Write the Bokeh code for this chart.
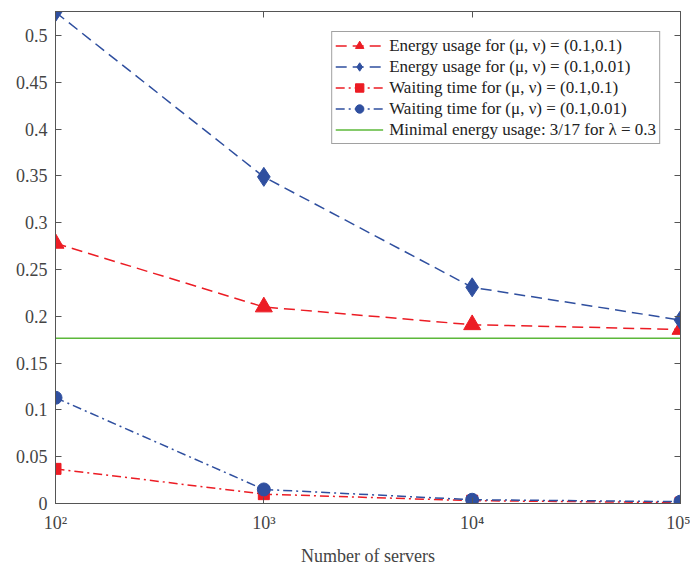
from bokeh.plotting import figure
from bokeh.models import LinearAxis, LogAxis, FixedTicker, Legend, LegendItem
from bokeh.embed import file_html
from bokeh.resources import INLINE

servers = [100, 1000, 10000, 100000]
energy_01_01 = [0.278, 0.210, 0.191, 0.186]
energy_01_001 = [0.525, 0.349, 0.231, 0.196]
wait_01_01 = [0.037, 0.010, 0.003, 0.001]
wait_01_001 = [0.113, 0.015, 0.004, 0.002]
min_energy = 3 / 17

y_ticks = [0, 0.05, 0.1, 0.15, 0.2, 0.25, 0.3, 0.35, 0.4, 0.45, 0.5]
y_tick_labels = ["0", "0.05", "0.1", "0.15", "0.2", "0.25", "0.3", "0.35", "0.4", "0.45", "0.5"]
x_ticks = [100, 1000, 10000, 100000]
x_tick_labels = ["10\u00b2", "10\u00b3", "10\u2074", "10\u2075"]

labels = [
    "Energy usage for (\u03bc, \u03bd) = (0.1,0.1)",
    "Energy usage for (\u03bc, \u03bd) = (0.1,0.01)",
    "Waiting time for (\u03bc, \u03bd) = (0.1,0.1)",
    "Waiting time for (\u03bc, \u03bd) = (0.1,0.01)",
    "Minimal energy usage: 3/17 for \u03bb = 0.3",
]

RED = "#ec1c24"
BLUE = "#2f4f9f"
GREEN = "#5cb83a"
FONT = "Liberation Serif"
AX = "#555555"

p = figure(width=690, height=568, x_axis_type="log", x_range=(100, 100000),
           y_range=(0, 0.5257), output_backend="svg", toolbar_location=None,
           min_border_left=55, min_border_right=10, min_border_top=11, min_border_bottom=65)
p.grid.visible = False
p.outline_line_color = AX
p.background_fill_color = "white"
p.border_fill_color = "white"

for ax in [p.xaxis[0], p.yaxis[0]]:
    ax.axis_line_color = AX
    ax.major_tick_line_color = AX
    ax.major_tick_in = 6
    ax.major_tick_out = 0
    ax.minor_tick_line_color = None
    ax.major_label_text_font = FONT
    ax.major_label_text_font_size = "18px"
    ax.major_label_text_color = "#444444"

p.xaxis[0].ticker = FixedTicker(ticks=x_ticks)
p.xaxis[0].major_label_overrides = dict(zip(x_ticks, x_tick_labels))
p.yaxis[0].ticker = FixedTicker(ticks=y_ticks)
p.yaxis[0].major_label_overrides = dict(zip(y_ticks, y_tick_labels))
p.xaxis[0].axis_label = "Number of servers"
p.xaxis[0].axis_label_text_font = FONT
p.xaxis[0].axis_label_text_font_size = "18px"
p.xaxis[0].axis_label_text_font_style = "normal"
p.xaxis[0].axis_label_text_color = "#444444"
p.xaxis[0].major_label_standoff = 9
p.xaxis[0].axis_label_standoff = 10
p.yaxis[0].major_label_standoff = 8

p.add_layout(LinearAxis(ticker=FixedTicker(ticks=y_ticks), major_label_text_color=None,
                        major_label_text_font_size="1px", major_label_standoff=0,
                        axis_line_color=AX, major_tick_line_color=AX, major_tick_in=6,
                        major_tick_out=0, minor_tick_line_color=None), "right")
p.add_layout(LogAxis(ticker=FixedTicker(ticks=x_ticks), major_label_text_color=None,
                     major_label_text_font_size="1px", major_label_standoff=0,
                     axis_line_color=AX, major_tick_line_color=AX, major_tick_in=6,
                     major_tick_out=0, minor_tick_line_color=None), "above")

items = []
l1 = p.line(servers, energy_01_01, line_color=RED, line_width=1.5, line_dash="11 6")
m1 = p.scatter(servers, energy_01_01, marker="triangle", size=17, color=RED)
items.append(LegendItem(label=labels[0], renderers=[l1, m1]))

l2 = p.line(servers, energy_01_001, line_color=BLUE, line_width=1.5, line_dash="11 6")
m2 = p.scatter(servers, energy_01_001, marker="diamond", size=19, color=BLUE)
items.append(LegendItem(label=labels[1], renderers=[l2, m2]))

l3 = p.line(servers, wait_01_01, line_color=RED, line_width=1.5, line_dash="9 4 2 4")
m3 = p.scatter(servers, wait_01_01, marker="square", size=11, color=RED)
items.append(LegendItem(label=labels[2], renderers=[l3, m3]))

l4 = p.line(servers, wait_01_001, line_color=BLUE, line_width=1.5, line_dash="9 4 2 4")
m4 = p.scatter(servers, wait_01_001, marker="circle", size=13, color=BLUE)
items.append(LegendItem(label=labels[3], renderers=[l4, m4]))

l5 = p.line([servers[0], servers[-1]], [min_energy, min_energy], line_color=GREEN, line_width=1.5)
items.append(LegendItem(label=labels[4], renderers=[l5]))

legend = Legend(items=items, location="top_right", margin=20,
                label_text_font=FONT, label_text_font_size="17px",
                label_text_color="#222222", glyph_width=48, glyph_height=21,
                spacing=0, padding=3, label_standoff=6, label_height=21,
                border_line_color="#444444", border_line_width=1,
                background_fill_alpha=1.0)
p.add_layout(legend, "center")

open("out.html", "w").write(file_html(p, INLINE))
